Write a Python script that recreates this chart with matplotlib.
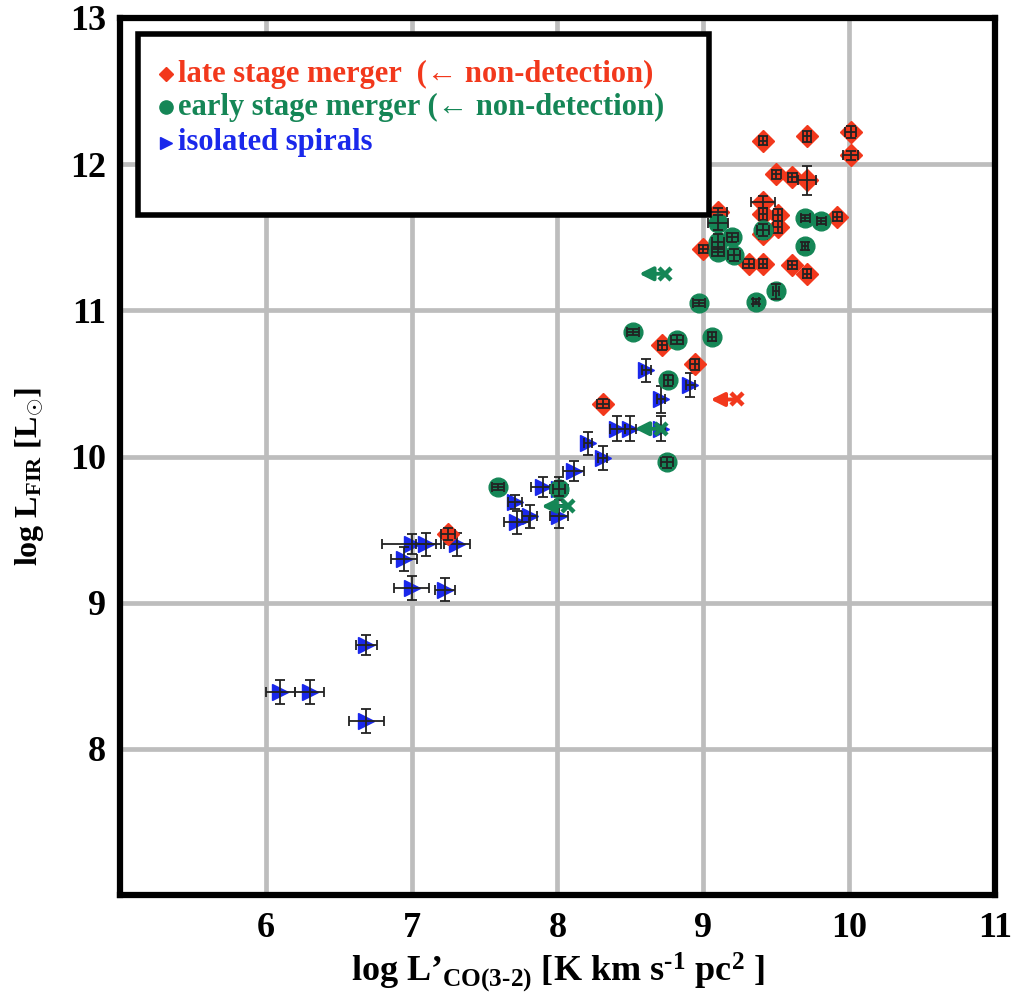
import matplotlib
matplotlib.use("Agg")
import matplotlib.pyplot as plt
import numpy as np

# ---- data -------------------------------------------------------------
# late stage mergers (detections)
late_x = [7.25, 8.31, 8.72, 8.94, 9.00, 9.10, 9.31, 9.41, 9.41, 9.41, 9.41, 9.41,
          9.51, 9.51, 9.50, 9.61, 9.61, 9.71, 9.71, 9.71, 9.92, 10.01, 10.01]
late_y = [9.47, 10.36, 10.76, 10.63, 11.42, 11.67, 11.32, 11.32, 11.66, 11.74, 12.16, 11.52,
          11.65, 11.57, 11.93, 11.91, 11.31, 11.89, 12.19, 11.25, 11.64, 12.22, 12.06]
late_xerr = [0.05, 0.04, 0.03, 0.03, 0.03, 0.06, 0.04, 0.03, 0.03, 0.08, 0.03, 0.03,
             0.03, 0.03, 0.03, 0.03, 0.03, 0.06, 0.03, 0.03, 0.03, 0.04, 0.05]
late_yerr = [0.04, 0.03, 0.03, 0.04, 0.03, 0.03, 0.03, 0.03, 0.04, 0.04, 0.03, 0.03,
             0.04, 0.04, 0.03, 0.03, 0.03, 0.10, 0.04, 0.03, 0.03, 0.04, 0.03]

# early stage mergers (detections)
early_x = [7.59, 8.01, 8.52, 8.76, 8.75, 8.82, 8.97, 9.06, 9.10, 9.10, 9.10, 9.20,
           9.21, 9.36, 9.41, 9.50, 9.70, 9.70, 9.81]
early_y = [9.79, 9.78, 10.85, 10.52, 9.96, 10.80, 11.05, 10.82, 11.60, 11.47, 11.40, 11.50,
           11.38, 11.06, 11.55, 11.13, 11.63, 11.44, 11.61]
early_xerr = [0.04, 0.04, 0.04, 0.03, 0.04, 0.04, 0.04, 0.03, 0.07, 0.04, 0.04, 0.04,
              0.04, 0.02, 0.04, 0.02, 0.03, 0.02, 0.03]
early_yerr = [0.02, 0.05, 0.02, 0.04, 0.04, 0.03, 0.02, 0.03, 0.05, 0.05, 0.03, 0.03,
              0.04, 0.02, 0.04, 0.05, 0.02, 0.03, 0.02]

# isolated spirals
iso_x = [6.10, 6.30, 6.69, 6.69, 6.95, 7.00, 7.10, 7.00, 7.23, 7.31, 7.72, 7.71, 7.81,
         7.90, 8.01, 8.01, 8.11, 8.21, 8.31, 8.41, 8.50, 8.71, 8.71, 8.61, 8.91]
iso_y = [8.39, 8.39, 8.71, 8.19, 9.30, 9.40, 9.40, 9.10, 9.09, 9.40, 9.55, 9.69, 9.59,
         9.79, 9.59, 9.78, 9.90, 10.09, 9.99, 10.19, 10.19, 10.19, 10.39, 10.59, 10.49]
iso_xerr = [0.10, 0.10, 0.07, 0.12, 0.09, 0.20, 0.07, 0.12, 0.07, 0.09, 0.085, 0.05, 0.05,
            0.08, 0.06, 0.06, 0.07, 0.03, 0.03, 0.05, 0.04, 0.03, 0.03, 0.03, 0.03]
iso_yerr = [0.08, 0.08, 0.07, 0.08, 0.08, 0.07, 0.08, 0.08, 0.08, 0.08, 0.08, 0.05, 0.08,
            0.07, 0.08, 0.08, 0.07, 0.08, 0.08, 0.085, 0.085, 0.085, 0.09, 0.08, 0.08]

# CO non-detections (upper limits in x)
late_nd_x = [9.23]
late_nd_y = [10.39]
early_nd_x = [8.74, 8.71, 8.07]
early_nd_y = [11.25, 10.19, 9.66]

x_ticks = [6, 7, 8, 9, 10, 11]
y_ticks = [8, 9, 10, 11, 12, 13]

# ---- style ------------------------------------------------------------
RED = "#f2381c"
GREEN = "#158656"
BLUE = "#1a28eb"

plt.rcParams["font.family"] = ["Liberation Serif", "DejaVu Serif"]
plt.rcParams["font.weight"] = "bold"
plt.rcParams["mathtext.fontset"] = "custom"
plt.rcParams["mathtext.rm"] = "Liberation Serif:bold"
plt.rcParams["mathtext.it"] = "Liberation Serif:bold"
plt.rcParams["mathtext.bf"] = "Liberation Serif:bold"

fig = plt.figure(figsize=(10.26, 9.94), dpi=100)
ax = fig.add_axes([120 / 1026, 1 - 895 / 994, 875 / 1026, 877 / 994])

ax.set_xlim(5, 11)
ax.set_ylim(7, 13)
ax.set_xticks(x_ticks)
ax.set_yticks(y_ticks)
ax.tick_params(length=0, labelsize=26)
ax.tick_params(axis="x", pad=12)
ax.tick_params(axis="y", pad=10)
ax.grid(True, color="#bdbdbd", linewidth=3.4, zorder=0)
ax.set_axisbelow(True)
for sp in ax.spines.values():
    sp.set_linewidth(4.5)
    sp.set_color("black")
    sp.set_zorder(10)

ebkw = dict(fmt="none", ecolor="#222222", elinewidth=1.3, capsize=3.5, capthick=1.3)

# isolated spirals
ax.plot(iso_x, iso_y, ls="none", marker=">", ms=11, color=BLUE, mec=BLUE, zorder=3)
ax.errorbar(iso_x, iso_y, xerr=iso_xerr, yerr=iso_yerr, zorder=3.5, **ebkw)

# late stage mergers
ax.plot(late_x, late_y, ls="none", marker="D", ms=11, color=RED, mec=RED, zorder=4)
ax.errorbar(late_x, late_y, xerr=late_xerr, yerr=late_yerr, zorder=4.5, **ebkw)

# early stage mergers
ax.plot(early_x, early_y, ls="none", marker="o", ms=13.5, color=GREEN, mec=GREEN, zorder=5)
ax.errorbar(early_x, early_y, xerr=early_xerr, yerr=early_yerr, zorder=5.5, **ebkw)

# non-detections: leftward arrows ending in a cross
ARROW_LEN = 0.18
for xs, ys, c in ((late_nd_x, late_nd_y, RED), (early_nd_x, early_nd_y, GREEN)):
    for xv, yv in zip(xs, ys):
        ax.annotate("", xy=(xv - ARROW_LEN, yv), xytext=(xv, yv),
                    arrowprops=dict(arrowstyle="-|>", color=c, lw=2.8,
                                    mutation_scale=20, shrinkA=0, shrinkB=0),
                    zorder=6)
    ax.plot(xs, ys, ls="none", marker="x", ms=8, mew=3.2, color=c, zorder=6)

# axis labels
ax.set_xlabel("log L\u2019$_{\\mathrm{CO(3\\text{-}2)}}$ [K km s$^{\\text{-1}}$ pc$^{\\mathrm{2}}$ ]",
              fontsize=26, fontweight="bold", labelpad=4)
ax.set_ylabel("log L$_{\\mathrm{FIR}}$ [L$_{\\odot}$]", fontsize=23, fontweight="bold")
ax.yaxis.set_label_coords(-0.084, 0.477)

# legend box
box = plt.Rectangle((0.0206, 0.775), 0.6526, 0.207, transform=ax.transAxes,
                    facecolor="white", edgecolor="black", linewidth=4, zorder=20)
ax.add_patch(box)
entries = [
    ("D", 7, RED, "late stage merger  (\u2190 non-detection)", 0.936),
    ("o", 9.5, GREEN, "early stage merger (\u2190 non-detection)", 0.898),
    (">", 9, BLUE, "isolated spirals", 0.858),
]
for mk, ms, c, label, yy in entries:
    ax.plot([0.052], [yy], transform=ax.transAxes, marker=mk, ms=ms, color=c,
            ls="none", zorder=21, clip_on=False)
    ax.text(0.066, yy, label, transform=ax.transAxes, color=c, fontsize=22,
            fontweight="bold", va="center", ha="left", zorder=21)

fig.savefig("out.png", dpi=100)
